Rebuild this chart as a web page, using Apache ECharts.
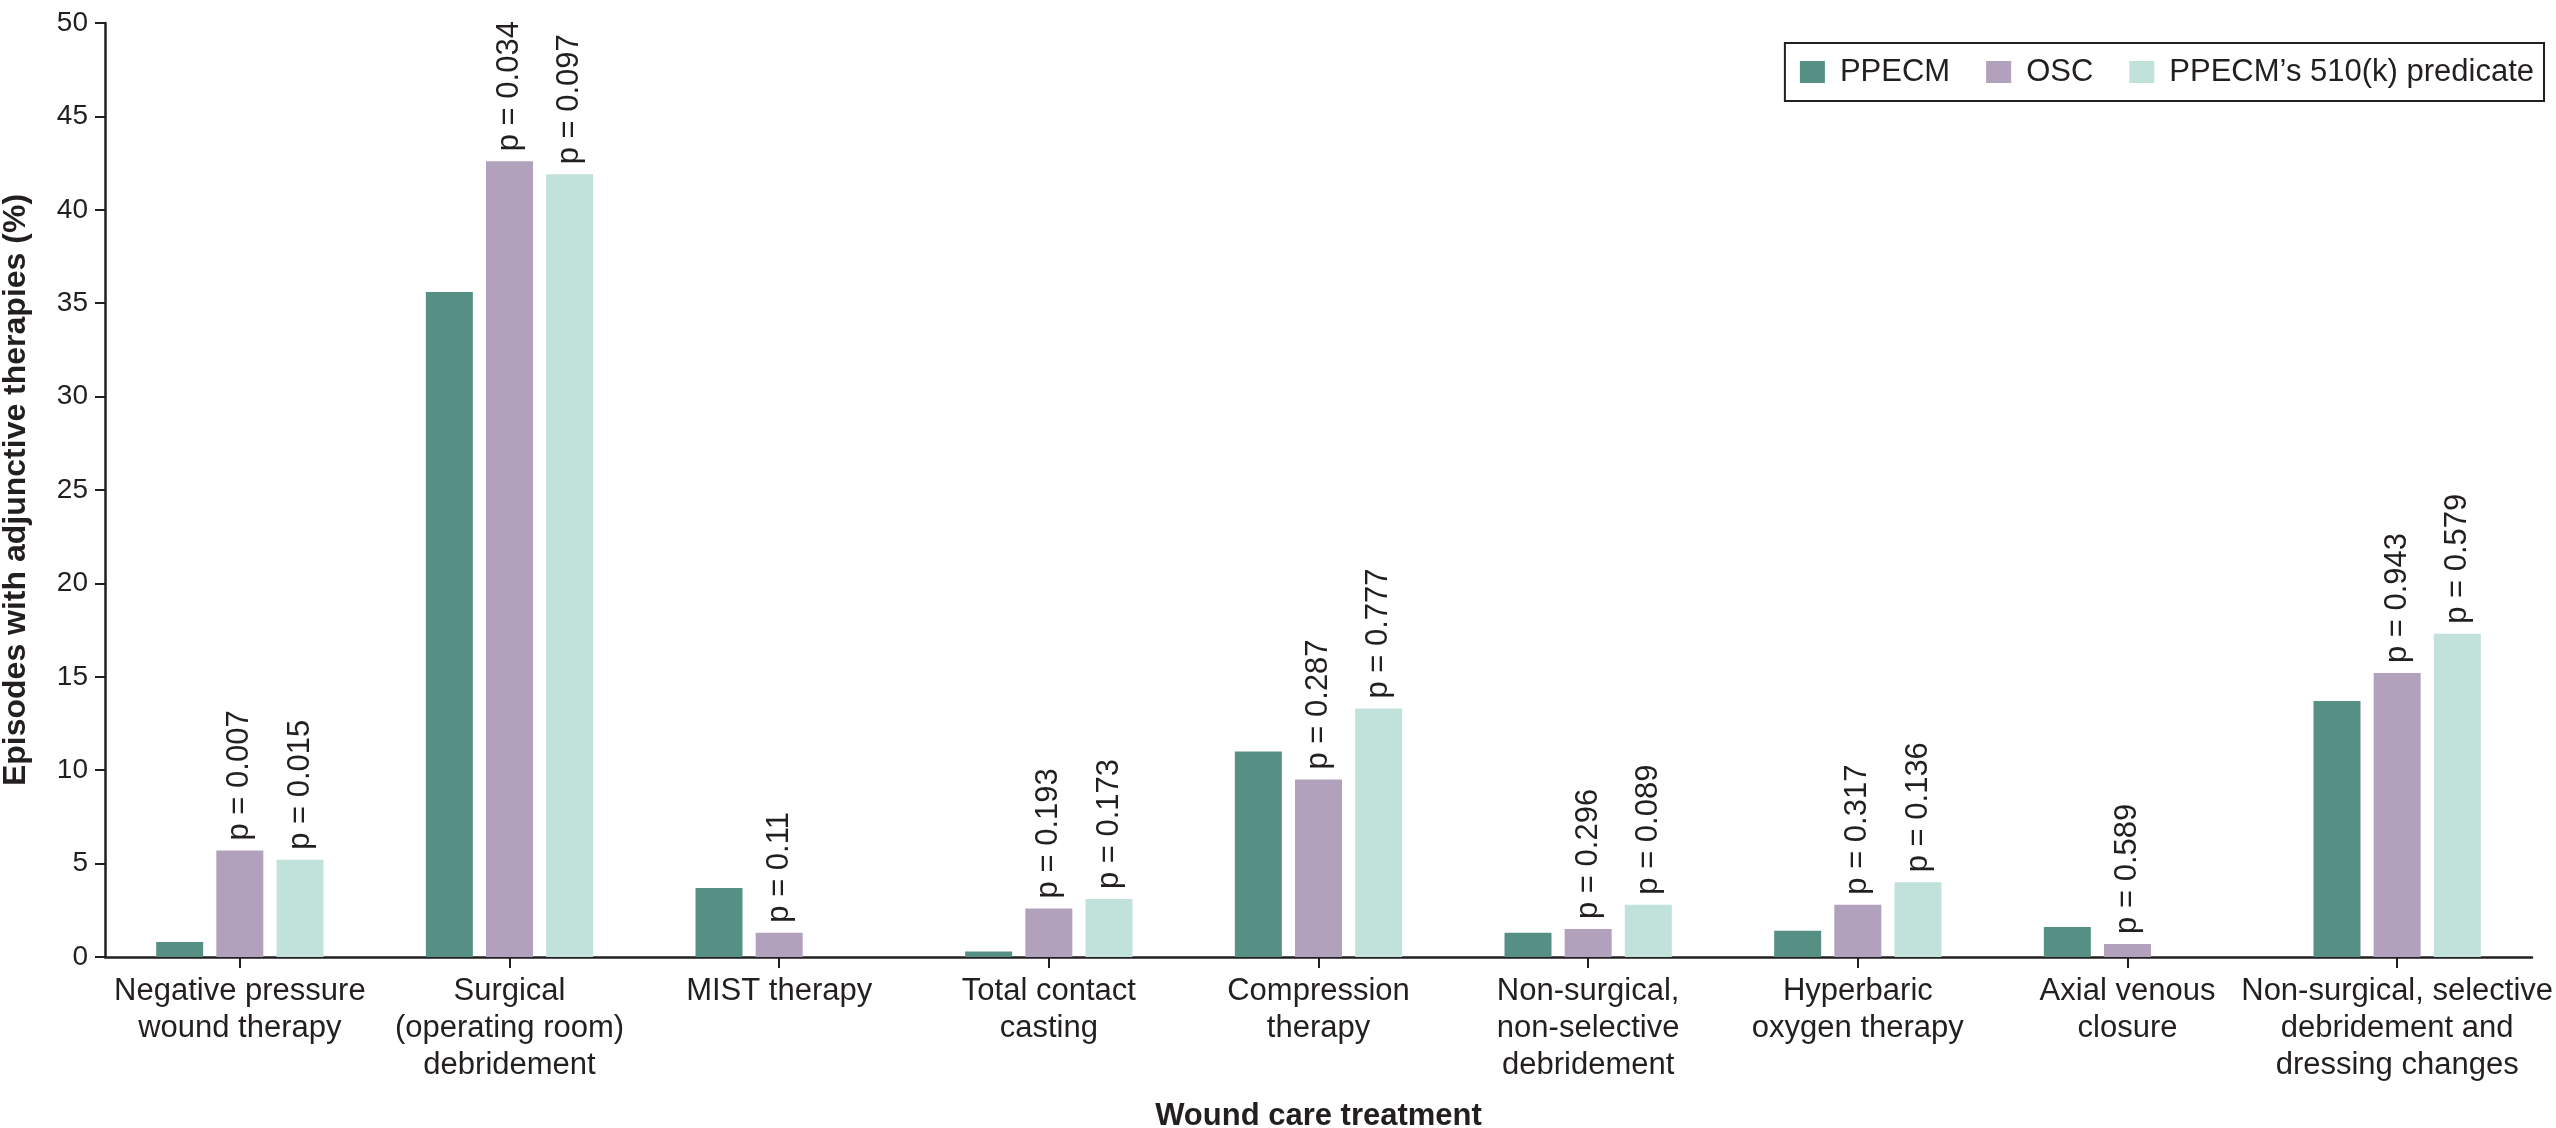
<!DOCTYPE html>
<html>
<head>
<meta charset="utf-8">
<script src="https://cdn.jsdelivr.net/npm/echarts@6/dist/echarts.min.js"></script>
<style>
html,body{margin:0;padding:0;background:#fff;}
#chart{width:2556px;height:1128px;}
</style>
</head>
<body>
<div id="chart"></div>
<script>
const categories = [
  "Negative pressure\nwound therapy",
  "Surgical\n(operating room)\ndebridement",
  "MIST therapy",
  "Total contact\ncasting",
  "Compression\ntherapy",
  "Non-surgical,\nnon-selective\ndebridement",
  "Hyperbaric\noxygen therapy",
  "Axial venous\nclosure",
  "Non-surgical, selective\ndebridement and\ndressing changes"
];
const seriesNames = ["PPECM", "OSC", "PPECM\u2019s 510(k) predicate"];
const ppecm = [0.8, 35.6, 3.7, 0.3, 11.0, 1.3, 1.4, 1.6, 13.7];
const osc   = [5.7, 42.6, 1.3, 2.6, 9.5, 1.5, 2.8, 0.7, 15.2];
const pred  = [5.2, 41.9, null, 3.1, 13.3, 2.8, 4.0, null, 17.3];
const oscP  = ["0.007", "0.034", "0.11", "0.193", "0.287", "0.296", "0.317", "0.589", "0.943"];
const predP = ["0.015", "0.097", null, "0.173", "0.777", "0.089", "0.136", null, "0.579"];
const yTicks = { min: 0, max: 50, interval: 5 };

const FONT = "'Liberation Sans', Arial, Helvetica, sans-serif";
const INK = "#231f20";
const colors = ["#568f84", "#b2a1bc", "#c1e2db"];

function pLabel(arr) {
  return {
    show: true,
    position: "top",
    rotate: 90,
    align: "left",
    verticalAlign: "middle",
    distance: 10,
    color: INK,
    fontFamily: FONT,
    fontSize: 31,
    formatter: p => arr[p.dataIndex] ? "p = " + arr[p.dataIndex] : ""
  };
}

const chart = echarts.init(document.getElementById("chart"), null, { renderer: "canvas" });
chart.setOption({
  animation: false,
  backgroundColor: "#ffffff",
  color: colors,
  grid: { left: 105, right: 24, top: 23, bottom: 171, containLabel: false, outerBoundsMode: "none" },
  legend: {
    right: 12, top: 43,
    orient: "horizontal",
    itemWidth: 25, itemHeight: 22, itemGap: 36,
    icon: "rect",
    borderColor: INK, borderWidth: 2,
    padding: [12, 10, 12, 15],
    textStyle: { fontFamily: FONT, fontSize: 31, color: INK, padding: [0, 0, 0, 10], lineHeight: 34 },
    data: seriesNames
  },
  xAxis: {
    type: "category",
    data: categories,
    name: "Wound care treatment",
    nameLocation: "middle",
    nameGap: 144,
    nameTextStyle: { fontFamily: FONT, fontSize: 31, fontWeight: "bold", color: INK },
    axisLine: { lineStyle: { color: INK, width: 2.5 } },
    axisTick: { show: true, alignWithLabel: true, length: 11, lineStyle: { color: INK, width: 2 } },
    axisLabel: { interval: 0, margin: 16, fontFamily: FONT, fontSize: 31, lineHeight: 37, color: INK }
  },
  yAxis: {
    type: "value",
    min: yTicks.min, max: yTicks.max, interval: yTicks.interval,
    name: "Episodes with adjunctive therapies (%)",
    nameLocation: "middle",
    nameGap: 73,
    nameTextStyle: { fontFamily: FONT, fontSize: 32, fontWeight: "bold", color: INK },
    splitLine: { show: false },
    axisLine: { show: true, lineStyle: { color: INK, width: 2.5 } },
    axisTick: { show: true, length: 10, lineStyle: { color: INK, width: 2 } },
    axisLabel: { margin: 17, fontFamily: FONT, fontSize: 28, color: INK }
  },
  series: [
    { name: seriesNames[0], type: "bar", data: ppecm, barWidth: 47, barGap: "28%" },
    { name: seriesNames[1], type: "bar", data: osc, barWidth: 47, barGap: "28%", label: pLabel(oscP) },
    { name: seriesNames[2], type: "bar", data: pred, barWidth: 47, barGap: "28%", label: pLabel(predP) }
  ]
});
</script>
</body>
</html>
